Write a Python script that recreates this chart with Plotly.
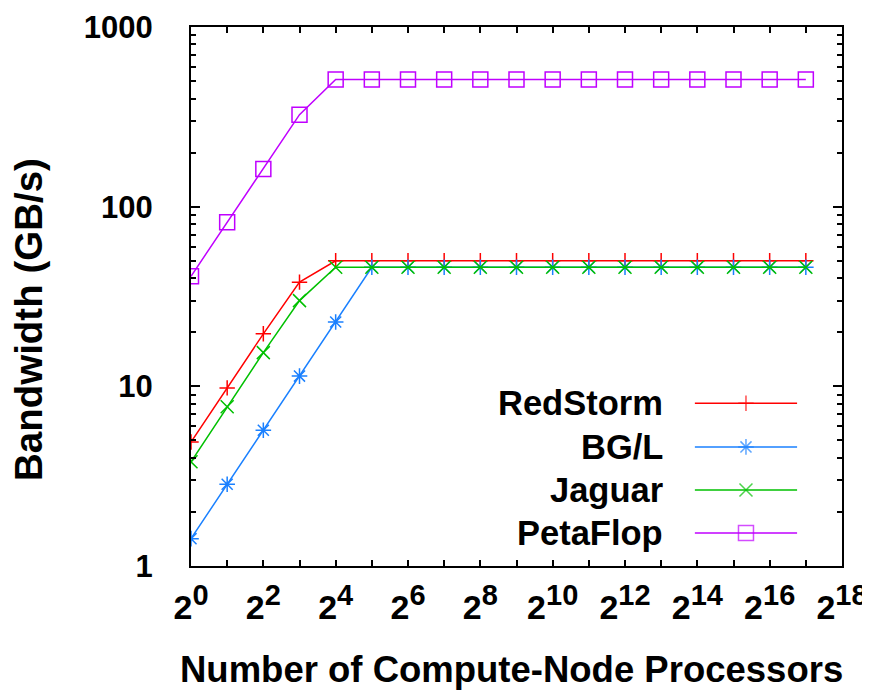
import plotly.graph_objects as go

# ---- data ----
processors = [1, 2, 4, 8, 16, 32, 64, 128, 256, 512, 1024, 2048, 4096, 8192,
              16384, 32768, 65536, 131072]
redstorm = [4.9, 9.8, 19.6, 38, 50, 50, 50, 50, 50, 50, 50, 50, 50, 50, 50, 50, 50, 50]
bgl = [1.42, 2.85, 5.7, 11.4, 22.8, 46, 46, 46, 46, 46, 46, 46, 46, 46, 46, 46, 46, 46]
jaguar = [3.8, 7.7, 15.4, 30, 46, 46, 46, 46, 46, 46, 46, 46, 46, 46, 46, 46, 46, 46]
petaflop = [41, 82, 162, 325, 510, 510, 510, 510, 510, 510, 510, 510, 510, 510,
            510, 510, 510, 510]

series_names = ["RedStorm", "BG/L", "Jaguar", "PetaFlop"]
series_values = [redstorm, bgl, jaguar, petaflop]
series_colors = ["#ff0000", "#1a80ff", "#00c000", "#c000ff"]
series_symbols = ["cross-thin-open", "asterisk-open", "x-thin-open", "square-open"]
series_sizes = [11, 13, 13, 15]

x_tick_vals = [1, 2, 4, 8, 16, 32, 64, 128, 256, 512, 1024, 2048, 4096, 8192,
               16384, 32768, 65536, 131072, 262144]
x_exponents = ["0", "", "2", "", "4", "", "6", "", "8", "", "10", "",
               "12", "", "14", "", "16", "", "18"]
y_tick_vals = [1, 10, 100, 1000]
y_tick_text = ["1", "10", "100", "1000"]
y_minor_vals = [2, 3, 4, 5, 6, 7, 8, 9, 20, 30, 40, 50, 60, 70, 80, 90,
                200, 300, 400, 500, 600, 700, 800, 900]

x_tick_text = [("2<sup><span style='font-size:29px'>%s</span></sup>" % e) if e else ""
               for e in x_exponents]

FONT = "Liberation Sans, Arial, Helvetica, sans-serif"

fig = go.Figure()
for name, vals, col, sym, sz in zip(series_names, series_values, series_colors,
                                    series_symbols, series_sizes):
    fig.add_trace(go.Scatter(
        x=processors, y=vals, mode="lines+markers", name=name,
        line=dict(color=col, width=1.5),
        marker=dict(symbol=sym, size=sz, color=col, line=dict(color=col, width=1.5)),
        showlegend=False,
    ))

# ---- custom gnuplot-style key (text right-aligned, sample on the right) ----
key_rows = [0.302, 0.221, 0.141, 0.061]
key_text_x = 0.728
key_line = [0.774, 0.931]
key_mark = 0.8525
for name, col, sym, sz, ky in zip(series_names, series_colors, series_symbols,
                                  series_sizes, key_rows):
    fig.add_annotation(x=key_text_x, y=ky, xref="x2", yref="y2", text=name,
                       showarrow=False, xanchor="right", yanchor="middle",
                       font=dict(family=FONT, size=34.5, color="black", weight="bold"))
    fig.add_trace(go.Scatter(
        x=[key_line[0], key_mark, key_line[1]], y=[ky, ky, ky], xaxis="x2", yaxis="y2",
        mode="lines+markers", line=dict(color=col, width=1.5),
        marker=dict(symbol=sym, size=[0, sz, 0], color=col,
                    line=dict(color=col, width=1.5)),
        showlegend=False, hoverinfo="skip",
    ))

# axis titles as annotations for exact placement
fig.add_annotation(x=0.493, y=-0.192, xref="paper", yref="paper",
                   text="Number of Compute-Node Processors", showarrow=False,
                   xanchor="center", yanchor="middle",
                   font=dict(family=FONT, size=36.5, color="black", weight="bold"))
fig.add_annotation(x=-0.2505, y=0.458, xref="paper", yref="paper",
                   text="Bandwidth (GB/s)", showarrow=False, textangle=-90,
                   xanchor="center", yanchor="middle",
                   font=dict(family=FONT, size=38.5, color="black", weight="bold"))

fig.update_layout(
    width=862, height=682,
    margin=dict(l=183, r=28, t=19, b=124, autoexpand=False),
    paper_bgcolor="white", plot_bgcolor="white",
    font=dict(family=FONT, color="black"),
    showlegend=False,
    xaxis=dict(
        type="log", range=[0, 5.41854], tickmode="array",
        tickvals=x_tick_vals, ticktext=x_tick_text,
        ticks="inside", ticklen=6, tickwidth=1.5, tickcolor="black",
        showline=True, linecolor="black", linewidth=2, mirror="ticks",
        showgrid=False, zeroline=False, automargin=False,
        tickfont=dict(family=FONT, size=34, weight="bold"),
        ticklabelstandoff=10,
    ),
    yaxis=dict(
        type="log", range=[0, 3], tickmode="array",
        tickvals=y_tick_vals, ticktext=y_tick_text,
        ticks="inside", ticklen=9, tickwidth=1.5, tickcolor="black",
        minor=dict(tickmode="array", tickvals=y_minor_vals, ticks="inside",
                   ticklen=5, tickwidth=1.5, tickcolor="black", showgrid=False),
        showline=True, linecolor="black", linewidth=2, mirror="ticks",
        showgrid=False, zeroline=False, automargin=False,
        tickfont=dict(family=FONT, size=31, weight="bold"),
        ticklabelstandoff=30,
    ),
    xaxis2=dict(domain=[0, 1], range=[0, 1], visible=False, anchor="y2",
                overlaying="x", fixedrange=True),
    yaxis2=dict(domain=[0, 1], range=[0, 1], visible=False, anchor="x2",
                overlaying="y", fixedrange=True),
)

fig.write_html("out.html")
